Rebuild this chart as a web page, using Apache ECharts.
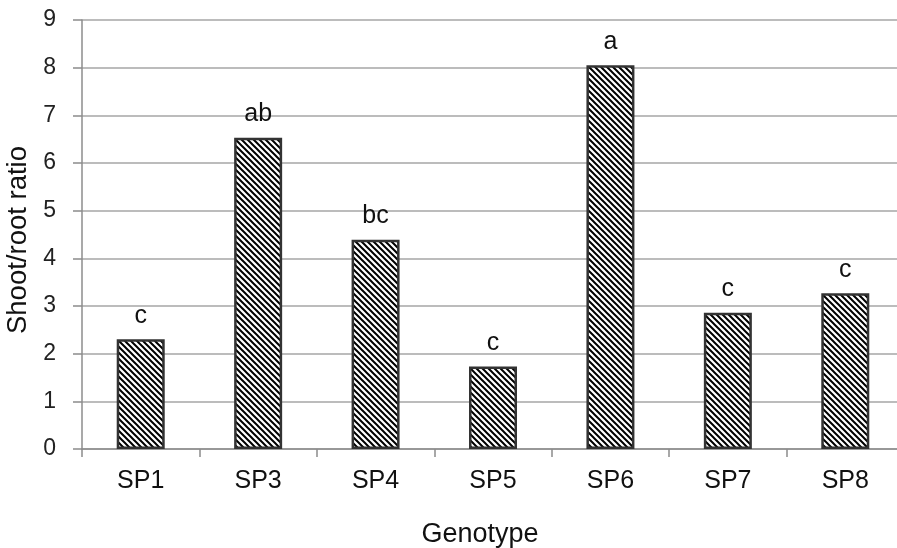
<!DOCTYPE html>
<html>
<head>
<meta charset="utf-8">
<script src="https://cdn.jsdelivr.net/npm/echarts@6/dist/echarts.min.js"></script>
<style>
  html, body { margin: 0; padding: 0; background: #fff; }
  #chart { width: 897px; height: 548px; }
</style>
</head>
<body>
<div id="chart"></div>
<script>
// Shoot/root ratio per genotype, with significance letters
const genotypes = ['SP1', 'SP3', 'SP4', 'SP5', 'SP6', 'SP7', 'SP8'];
const ratios = [2.30, 6.53, 4.39, 1.73, 8.05, 2.86, 3.27];
const letters = ['c', 'ab', 'bc', 'c', 'a', 'c', 'c'];
const yTicks = { min: 0, max: 9, step: 1 };

// Diagonal hatch tile ("\" stripes, black on white)
function hatchTile() {
  const p = 6;
  const c = document.createElement('canvas');
  c.width = p; c.height = p;
  const g = c.getContext('2d');
  g.fillStyle = '#ffffff';
  g.fillRect(0, 0, p, p);
  g.strokeStyle = '#000000';
  g.lineWidth = 2.0;
  g.beginPath();
  for (let k = -1; k <= 1; k++) {
    g.moveTo(k * p - 1, -1);
    g.lineTo(k * p + p + 1, p + 1);
  }
  g.stroke();
  return c;
}

const font = '"Liberation Sans", Arial, sans-serif';
const chart = echarts.init(document.getElementById('chart'), null, { renderer: 'canvas' });

chart.setOption({
  animation: false,
  backgroundColor: '#ffffff',
  grid: { left: 82, right: -7, top: 20, bottom: 99, containLabel: false, outerBoundsMode: 'none' },
  xAxis: {
    type: 'category',
    data: genotypes,
    name: 'Genotype',
    nameLocation: 'middle',
    nameGap: 72,
    nameTextStyle: { fontFamily: font, fontSize: 27, color: '#111', padding: [0, 26, 0, 0] },
    axisLine: { lineStyle: { color: '#8c8c8c', width: 1.5 } },
    axisTick: { show: true, length: 8, alignWithLabel: false, lineStyle: { color: '#8c8c8c', width: 1.5 } },
    axisLabel: { margin: 20, fontFamily: font, fontSize: 25, color: '#111' },
    splitLine: { show: false }
  },
  yAxis: {
    type: 'value',
    min: yTicks.min,
    max: yTicks.max,
    interval: yTicks.step,
    name: 'Shoot/root ratio',
    nameLocation: 'middle',
    nameGap: 47,
    nameRotate: 90,
    nameTextStyle: { fontFamily: font, fontSize: 27.5, color: '#111', padding: [0, 11, 0, 0] },
    axisLine: { show: true, lineStyle: { color: '#8c8c8c', width: 1.5 } },
    axisTick: { show: true, length: 9, lineStyle: { color: '#8c8c8c', width: 1.5 } },
    axisLabel: { margin: 26, fontFamily: font, fontSize: 23, color: '#222' },
    splitLine: { show: true, lineStyle: { color: '#a6a6a6', width: 1.5 } }
  },
  series: [{
    type: 'bar',
    data: ratios,
    barWidth: 48,
    itemStyle: {
      color: { image: hatchTile(), repeat: 'repeat' },
      borderColor: '#333333',
      borderWidth: 2.5
    },
    label: {
      show: true,
      position: 'top',
      distance: 11,
      fontFamily: font,
      fontSize: 25,
      color: '#111',
      formatter: (p) => letters[p.dataIndex]
    }
  }]
});
</script>
</body>
</html>
